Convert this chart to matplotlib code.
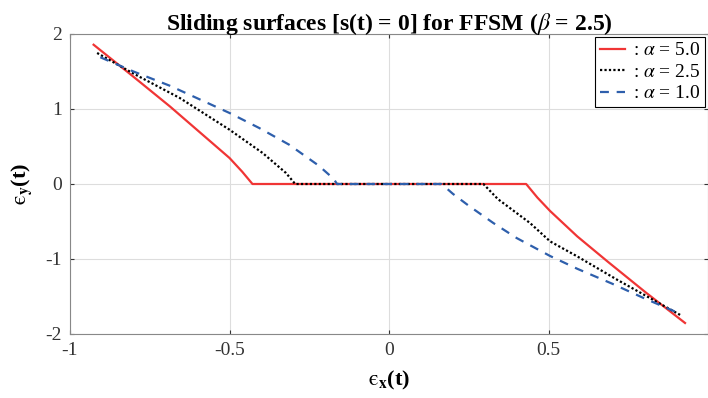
import matplotlib.pyplot as plt

plt.rcParams['font.family'] = ['Liberation Serif', 'DejaVu Serif']
plt.rcParams['mathtext.fontset'] = 'stix'
plt.rcParams['axes.unicode_minus'] = False

# values
red_x = [-0.926, -0.806, -0.687, -0.600, -0.500, -0.460, -0.428,
         0.430, 0.465, 0.505, 0.590, 0.687, 0.806, 0.928]
red_y = [1.857, 1.447, 1.035, 0.715, 0.347, 0.163, 0.0,
         0.0, -0.180, -0.360, -0.698, -1.040, -1.450, -1.853]

black_x = [-0.915, -0.800, -0.656, -0.500, -0.396, -0.323, -0.294,
           0.296, 0.341, 0.442, 0.505, 0.590, 0.715, 0.917]
black_y = [1.747, 1.470, 1.147, 0.724, 0.413, 0.147, 0.0,
           0.0, -0.200, -0.520, -0.765, -0.965, -1.276, -1.756]

blue_x = [-0.905, -0.801, -0.687, -0.500, -0.407, -0.313, -0.220, -0.173, -0.163,
          0.165, 0.200, 0.250, 0.327, 0.400, 0.505, 0.590, 0.700, 0.798, 0.907]
blue_y = [1.690, 1.500, 1.310, 0.947, 0.747, 0.524, 0.244, 0.067, 0.0,
          0.0, -0.130, -0.290, -0.520, -0.720, -0.960, -1.130, -1.330, -1.520, -1.720]

labels = [': $\\alpha$ = 5.0', ': $\\alpha$ = 2.5', ': $\\alpha$ = 1.0']
xticks = [-1, -0.5, 0, 0.5]
xtick_labels = ['-1', '-0.5', '0', '0.5']
yticks = [-2, -1, 0, 1, 2]

fig = plt.figure(figsize=(7.08, 3.98), dpi=100)
ax = fig.add_axes([70/708, 1 - 334/398, 638/708, 300/398])

ax.plot(red_x, red_y, color='#f03535', lw=1.6, label=labels[0])
ax.plot(black_x, black_y, color='black', lw=1.6, linestyle=(0, (1, 1)), label=labels[1])
ax.plot(blue_x, blue_y, color='#2e5fac', lw=1.6, linestyle=(0, (4, 3.5)), label=labels[2])

ax.set_xlim(-1, 1)
ax.set_ylim(-2, 2)
ax.set_xticks(xticks)
ax.set_xticklabels(xtick_labels)
ax.set_yticks(yticks)
ax.grid(True, color='#dddddd', lw=0.8)
ax.tick_params(direction='in', length=3, labelsize=14, colors='#333333',
               top=True, right=True, pad=6)
for s in ax.spines.values():
    s.set_color('#888888')
    s.set_linewidth(0.8)

ax.set_title('Sliding surfaces [s(t) = 0] for FFSM ($\\beta$ = 2.5)',
             fontsize=17, fontweight='bold', pad=3)
ax.set_xlabel('$\\mathrm{\u03f5}_{\\mathbf{x}}$(t)', fontsize=16, fontweight='bold', labelpad=7)
ax.set_ylabel('$\\mathrm{\u03f5}_{\\mathbf{y}}$(t)', fontsize=16, fontweight='bold', labelpad=8)

leg = ax.legend(loc='upper right', fontsize=14, handlelength=1.3, handletextpad=0.4,
                borderpad=0.25, labelspacing=0.2, fancybox=False, framealpha=1,
                borderaxespad=0.15)
leg.get_frame().set_edgecolor('black')
leg.get_frame().set_linewidth(0.8)

fig.savefig('out.png', dpi=100)
